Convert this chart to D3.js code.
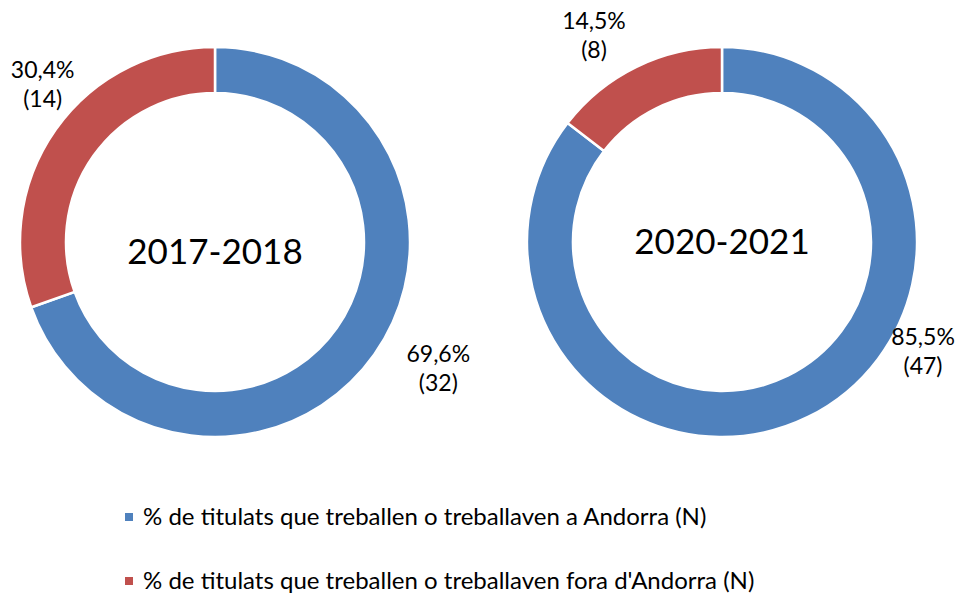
<!DOCTYPE html>
<html>
<head>
<meta charset="utf-8">
<script src="https://cdn.jsdelivr.net/npm/d3@7"></script>
<style>
  body { margin: 0; background: #fff; }
  text { font-family: Lato, "Open Sans", sans-serif; fill: #000; }
</style>
</head>
<body>
<svg id="chart" width="976" height="595"></svg>
<script>
const years = ["2017-2018", "2020-2021"];
const categories = [
  "% de titulats que treballen o treballaven a Andorra (N)",
  "% de titulats que treballen o treballaven fora d'Andorra (N)"
];
const counts2017 = [32, 14];
const counts2020 = [47, 8];
const pct2017 = ["69,6%", "30,4%"];
const pct2020 = ["85,5%", "14,5%"];
const colors = ["#4F81BD", "#C0504D"];

// label nudges relative to the outer edge at each slice's middle angle
const labelNudge = [
  [[64, 14], [-13, -46]],
  [[115, -66], [-42, -32]]
];

const svg = d3.select("#chart");
const outerR = 195, innerR = 149;
const centers = [[215, 242], [722, 242]];

const pie = d3.pie().sort(null).value((d) => d);
const arc = d3.arc().innerRadius(innerR).outerRadius(outerR);
const color = d3.scaleOrdinal().domain(d3.range(categories.length)).range(colors);

[counts2017, counts2020].forEach((counts, i) => {
  const pcts = i === 0 ? pct2017 : pct2020;
  const g = svg.append("g").attr("transform", `translate(${centers[i][0]},${centers[i][1]})`);

  const slices = pie(counts);
  g.selectAll("path")
    .data(slices)
    .join("path")
    .attr("d", arc)
    .attr("fill", (d) => color(d.index))
    .attr("stroke", "#fff")
    .attr("stroke-width", 2.5);

  g.append("text")
    .attr("text-anchor", "middle")
    .attr("y", i === 0 ? 22 : 12)
    .style("font-size", "35px")
    .text(years[i]);

  slices.forEach((d) => {
    const mid = (d.startAngle + d.endAngle) / 2;
    const [nx, ny] = labelNudge[i][d.index];
    const x = outerR * Math.sin(mid) + nx;
    const y = -outerR * Math.cos(mid) + ny;
    const t = g.append("text")
      .attr("text-anchor", "middle")
      .style("font-size", "23px");
    t.append("tspan").attr("x", x).attr("y", y - 6).text(pcts[d.index]);
    t.append("tspan").attr("x", x).attr("y", y + 23).text(`(${counts[d.index]})`);
  });
});

const legend = svg.append("g").attr("transform", "translate(125,0)");
const legendY = d3.scalePoint().domain(d3.range(categories.length)).range([517, 581]);
categories.forEach((c, k) => {
  legend.append("rect")
    .attr("x", 0)
    .attr("y", legendY(k) - 4)
    .attr("width", 8)
    .attr("height", 8)
    .attr("fill", color(k));
  legend.append("text")
    .attr("x", 18)
    .attr("y", legendY(k) + 8)
    .style("font-size", "24px")
    .text(c);
});
</script>
</body>
</html>
